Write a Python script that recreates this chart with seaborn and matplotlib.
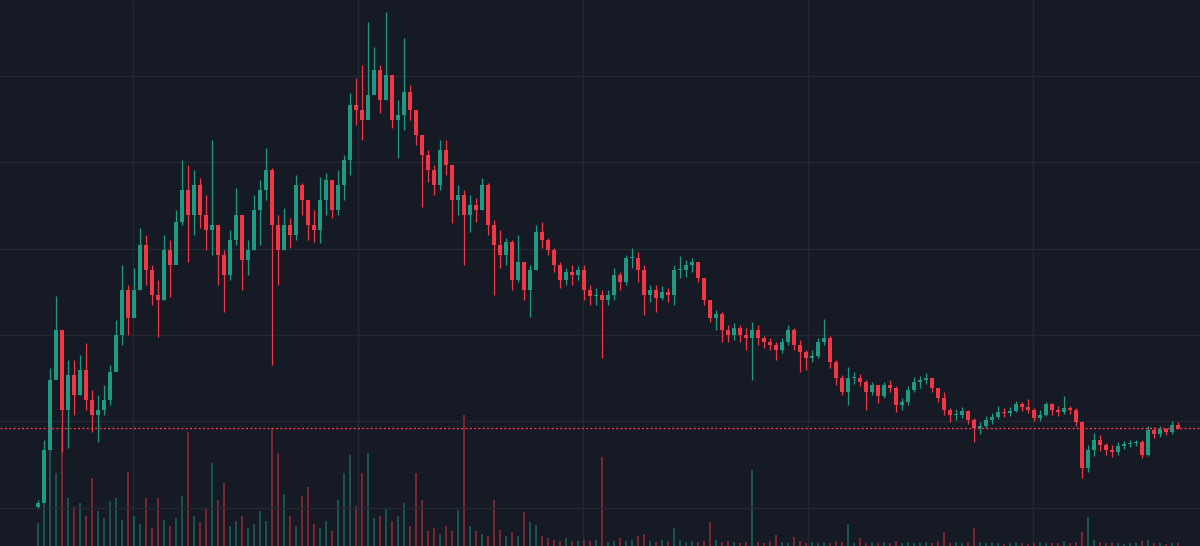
import numpy as np
import pandas as pd
import matplotlib
matplotlib.use("Agg")
import matplotlib.pyplot as plt
import seaborn as sns

# prices in cents, one candle per period (open = previous close)
first_open = 39

close = [
    43, 96, 166, 216, 136, 171, 151, 176, 146, 131,
    136, 146, 174, 211, 256, 228, 256, 301, 276, 251,
    246, 296, 281, 324, 356, 331, 361, 331, 316, 321,
    291, 271, 306, 331, 286, 296, 336, 356, 376, 321,
    296, 321, 311, 361, 346, 321, 316, 346, 366, 336,
    361, 386, 441, 436, 426, 451, 476, 446, 471, 426,
    431, 454, 436, 411, 391, 376, 361, 396, 381, 346,
    351, 331, 341, 336, 361, 321, 301, 291, 304, 266,
    284, 256, 276, 314, 306, 296, 281, 266, 274, 271,
    276, 256, 250, 251, 246, 251, 271, 264, 288, 288,
    276, 251, 256, 248, 254, 251, 276, 276, 281, 284,
    268, 246, 228, 232, 216, 211, 218, 211, 208, 216,
    208, 204, 201, 196, 204, 216, 201, 194, 188, 190,
    204, 208, 184, 168, 154, 168, 168, 164, 154, 161,
    150, 161, 158, 141, 144, 156, 164, 166, 168, 158,
    148, 136, 131, 131, 135, 126, 118, 120, 126, 129,
    134, 133, 135, 142, 139, 136, 128, 131, 142, 136,
    134, 138, 136, 124, 78, 96, 106, 101, 96, 94,
    100, 102, 103, 104, 91, 116, 112, 117, 114, 121, 118,
]

high = [
    46, 106, 178, 250, 206, 186, 186, 191, 203, 156,
    151, 161, 181, 226, 281, 261, 278, 318, 311, 281,
    266, 311, 306, 336, 386, 381, 376, 368, 351, 406,
    321, 296, 316, 358, 331, 306, 351, 366, 398, 378,
    331, 338, 328, 371, 363, 341, 336, 369, 373, 366,
    376, 391, 453, 468, 481, 524, 499, 481, 534, 471,
    446, 508, 461, 436, 411, 396, 381, 406, 406, 378,
    361, 356, 351, 348, 368, 363, 326, 316, 308, 306,
    311, 284, 281, 321, 324, 308, 298, 284, 278, 281,
    280, 281, 261, 258, 256, 256, 278, 274, 291, 298,
    294, 281, 261, 261, 260, 258, 281, 290, 286, 288,
    284, 261, 246, 236, 234, 221, 223, 221, 218, 224,
    221, 210, 208, 204, 208, 221, 218, 206, 196, 196,
    208, 227, 210, 186, 171, 179, 174, 172, 166, 164,
    161, 164, 166, 160, 148, 160, 169, 170, 173, 168,
    158, 154, 138, 137, 139, 136, 128, 124, 130, 133,
    140, 138, 139, 145, 144, 147, 138, 136, 144, 143,
    140, 150, 140, 138, 124, 101, 113, 111, 103, 101,
    104, 105, 106, 106, 106, 120, 119, 120, 118, 125, 124,
]

low = [
    38, 56, 101, 171, 94, 98, 131, 151, 136, 114,
    104, 131, 141, 176, 201, 211, 236, 256, 261, 241,
    209, 246, 249, 286, 321, 284, 311, 318, 296, 291,
    261, 234, 266, 301, 256, 271, 296, 301, 346, 181,
    261, 296, 298, 306, 331, 306, 304, 303, 331, 328,
    331, 346, 371, 421, 406, 431, 456, 433, 446, 418,
    388, 416, 426, 401, 339, 364, 351, 356, 371, 323,
    331, 281, 314, 324, 336, 311, 251, 278, 281, 256,
    264, 246, 229, 276, 298, 291, 274, 258, 261, 261,
    266, 246, 241, 241, 188, 241, 246, 256, 261, 278,
    264, 231, 244, 234, 246, 244, 241, 268, 269, 274,
    264, 241, 224, 216, 204, 204, 206, 204, 196, 166,
    201, 198, 196, 186, 193, 201, 196, 174, 176, 184,
    188, 201, 178, 161, 151, 141, 162, 160, 136, 151,
    143, 148, 154, 134, 136, 141, 154, 158, 162, 154,
    144, 131, 124, 126, 128, 122, 104, 112, 118, 122,
    127, 129, 130, 134, 135, 133, 125, 125, 130, 131,
    130, 132, 132, 120, 68, 74, 90, 95, 91, 89,
    91, 97, 99, 100, 88, 90, 108, 109, 111, 112, 117,
]

volume = [
    23, 55, 99, 73, 116, 48, 39, 43, 30, 68,
    35, 28, 45, 48, 26, 74, 30, 22, 48, 18,
    48, 26, 20, 28, 50, 114, 30, 24, 38, 83,
    46, 63, 20, 25, 30, 18, 22, 35, 25, 118,
    93, 52, 30, 20, 50, 59, 22, 18, 25, 15,
    46, 73, 91, 40, 73, 93, 28, 30, 38, 25,
    30, 43, 20, 73, 46, 15, 18, 12, 20, 15,
    36, 131, 20, 15, 12, 10, 46, 16, 10, 14,
    10, 34, 24, 21, 10, 8, 6, 5, 8, 5,
    5, 6, 5, 6, 89, 4, 5, 8, 5, 6,
    10, 12, 5, 4, 6, 5, 18, 6, 4, 5,
    4, 5, 24, 6, 4, 5, 4, 3, 4, 76,
    4, 3, 5, 11, 4, 3, 9, 5, 3, 4,
    3, 4, 3, 5, 4, 22, 3, 8, 3, 4,
    3, 4, 3, 5, 3, 4, 3, 3, 4, 3,
    5, 14, 3, 4, 3, 4, 18, 4, 3, 3,
    3, 2, 3, 4, 3, 2, 3, 4, 3, 3,
    3, 5, 3, 4, 14, 29, 6, 4, 3, 3,
    3, 2, 3, 3, 5, 6, 3, 3, 2, 3, 3,
]

UP = "#1e9a82"
DOWN = "#f23645"
BG = "#161a25"
GRID = "#242833"

df = pd.DataFrame({"close": close, "high": high, "low": low, "volume": volume})
df[["close", "high", "low"]] = df[["close", "high", "low"]] / 100
df["open"] = df["close"].shift(1).fillna(first_open / 100)
df["t"] = np.arange(len(df))
df["dir"] = np.where(df["close"] >= df["open"], "up", "down")
colors = np.where(df["dir"] == "up", UP, DOWN)

sns.set_theme(style="dark", rc={"axes.facecolor": BG, "figure.facecolor": BG})

fig = plt.figure(figsize=(12, 5.46), dpi=100)
vax = fig.add_axes([0, 0, 1, 1])

# volume at the bottom
sns.barplot(data=df, x="t", y="volume", hue="dir",
            palette={"up": UP, "down": DOWN}, native_scale=True,
            dodge=False, width=0.4, alpha=0.45, saturation=1,
            errorbar=None, legend=False, linewidth=0, ax=vax)
vax.set_ylim(0, 546)

# time grid
for gx in [15.83, 53.33, 90.83, 128.33, 165.83]:
    vax.axvline(gx, color=GRID, lw=1, zorder=0)

# candles
pax = vax.twinx()
for gy in [0.38, 1.25, 2.11, 2.97, 3.84, 4.70]:
    pax.axhline(gy, color=GRID, lw=1, zorder=0)

body_bot = np.minimum(df["open"], df["close"])
body_h = np.maximum((df["close"] - df["open"]).abs(), 0.015)
pax.vlines(df["t"], df["low"], df["high"], colors=colors, linewidth=0.9, zorder=2)
pax.bar(df["t"], body_h, bottom=body_bot, width=0.75, color=colors, linewidth=0, zorder=3)

pax.axhline(df["close"].iloc[-1], color=DOWN, linestyle=(0, (1.5, 1.6)), lw=1.0, zorder=4)
pax.set_ylim(0, 5.46)

for a in (vax, pax):
    a.set_xlim(-6.33, 193.67)
    a.set_xlabel("")
    a.set_ylabel("")
    a.set_xticks([])
    a.set_yticks([])
    a.grid(False)
    for s in a.spines.values():
        s.set_visible(False)

fig.savefig("out.png", dpi=100, facecolor=BG)
